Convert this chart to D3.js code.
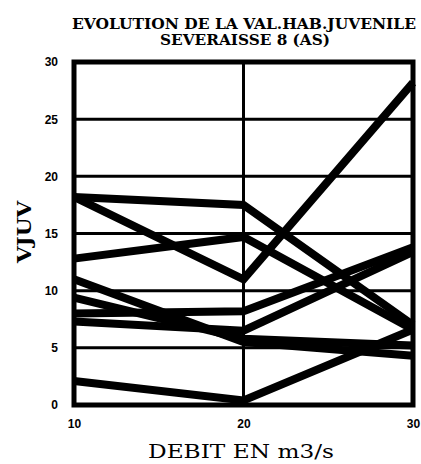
<!DOCTYPE html>
<html><head><meta charset="utf-8">
<script src="https://cdn.jsdelivr.net/npm/d3@7"></script>
<style>body{margin:0;background:#fff}svg{display:block}</style>
</head><body>
<svg id="c" width="421" height="464"></svg>
<script>
const debits = [10, 20, 30];
const serieA = [18.2, 17.5, 7.0];
const serieB = [18.2, 11.0, 28.2];
const serieC = [12.8, 14.7, 6.6];
const serieD = [11.0, 5.5, 4.3];
const serieE = [9.4, 5.8, 5.2];
const serieF = [8.0, 8.2, 13.8];
const serieG = [7.3, 6.5, 13.4];
const serieH = [2.1, 0.4, 6.6];
const series = [serieA, serieB, serieC, serieD, serieE, serieF, serieG, serieH];
const yTicks = [0, 5, 10, 15, 20, 25, 30];
const xTicks = [10, 20, 30];

const svg = d3.select("#c");
const L = 74, R = 413, T = 62, B = 405;
const x = d3.scaleLinear().domain([10, 30]).range([L, R]);
const y = d3.scaleLinear().domain([0, 30]).range([B, T]);

// grid
svg.append("g").selectAll("line").data(yTicks.filter(d => d > 0 && d < 30)).join("line")
  .attr("x1", L).attr("x2", R).attr("y1", d => y(d)).attr("y2", d => y(d))
  .attr("stroke", "#000").attr("stroke-width", 3);
svg.append("g").selectAll("line").data(xTicks.filter(d => d > 10 && d < 30)).join("line")
  .attr("x1", d => x(d)).attr("x2", d => x(d)).attr("y1", T).attr("y2", B)
  .attr("stroke", "#000").attr("stroke-width", 3);

// lines
const line = d3.line().x((d, i) => x(debits[i])).y(d => y(d));
svg.append("g").selectAll("path").data(series).join("path")
  .attr("d", line).attr("fill", "none").attr("stroke", "#000")
  .attr("stroke-width", 8).attr("stroke-linejoin", "miter");

// frame
svg.append("rect").attr("x", L).attr("y", T).attr("width", R - L).attr("height", B - T)
  .attr("fill", "none").attr("stroke", "#000").attr("stroke-width", 5);

// axes
const yAxis = d3.axisLeft(y).tickValues(yTicks).tickSize(0).tickPadding(16).tickFormat(d3.format("d"));
const gy = svg.append("g").attr("transform", `translate(${L},0)`).call(yAxis);
gy.select(".domain").remove();
gy.selectAll("text").attr("font-family", "Liberation Sans, Arial, sans-serif")
  .attr("font-weight", "bold").attr("font-size", 12).attr("fill", "#000");

const xAxis = d3.axisBottom(x).tickValues(xTicks).tickSize(0).tickPadding(14).tickFormat(d3.format("d"));
const gx = svg.append("g").attr("transform", `translate(0,${B})`).call(xAxis);
gx.select(".domain").remove();
gx.selectAll("text").attr("font-family", "Liberation Sans, Arial, sans-serif")
  .attr("font-weight", "bold").attr("font-size", 12).attr("fill", "#000");

// titles
const serif = "DejaVu Serif, Liberation Serif, serif";
svg.append("text").attr("x", 244).attr("y", 29).attr("text-anchor", "middle")
  .attr("font-family", serif).attr("font-weight", "bold").attr("font-size", 14)
  .attr("textLength", 344).attr("lengthAdjust", "spacingAndGlyphs")
  .text("EVOLUTION DE LA VAL.HAB.JUVENILE");
svg.append("text").attr("x", 245).attr("y", 45).attr("text-anchor", "middle")
  .attr("font-family", serif).attr("font-weight", "bold").attr("font-size", 14)
  .attr("textLength", 170).attr("lengthAdjust", "spacingAndGlyphs")
  .text("SEVERAISSE 8 (AS)");
svg.append("text").attr("x", 241).attr("y", 458).attr("text-anchor", "middle")
  .attr("font-family", serif).attr("font-size", 19)
  .attr("textLength", 186).attr("lengthAdjust", "spacingAndGlyphs")
  .text("DEBIT EN m3/s");
svg.append("text").attr("transform", "translate(31,232) rotate(-90)").attr("text-anchor", "middle")
  .attr("font-family", serif).attr("font-weight", "bold").attr("font-size", 18)
  .attr("textLength", 62).attr("lengthAdjust", "spacingAndGlyphs")
  .text("VJUV");
</script>
</body></html>
